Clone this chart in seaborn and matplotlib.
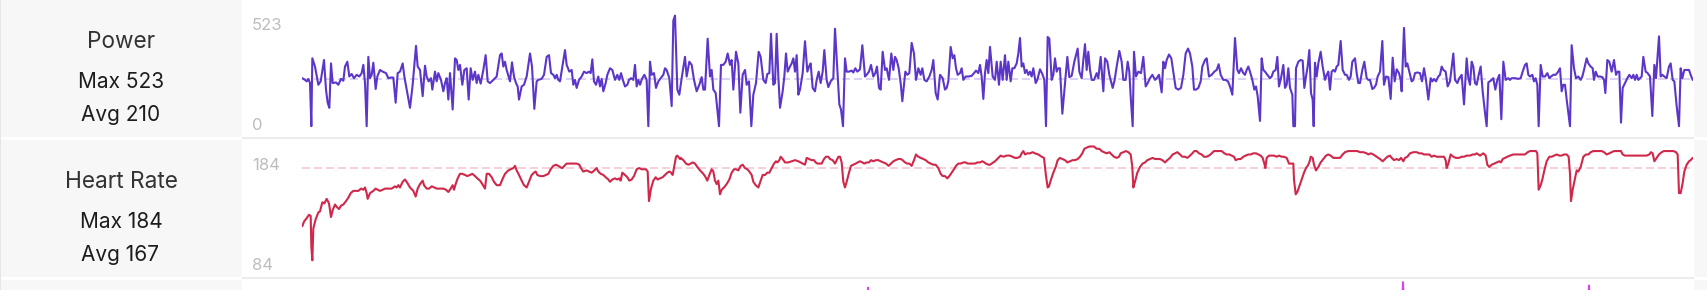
import numpy as np
import pandas as pd
import matplotlib
matplotlib.use("Agg")
import matplotlib.pyplot as plt
import seaborn as sns
from matplotlib.patches import Rectangle

# ---------------- data (elapsed seconds, values) ----------------
power_t = [
    1, 9, 14, 19, 24, 28, 31, 39, 49, 56,
    66, 72, 77, 82, 87, 92, 102, 109, 117, 124,
    129, 136, 142, 149, 156, 164, 172, 179, 184, 189,
    194, 199, 204, 209, 214, 221, 226, 234, 242, 252,
    259, 266, 274, 281, 287, 294, 302, 307, 314, 324,
    332, 342, 347, 354, 362, 369, 374, 380, 387, 391,
    399, 404, 409, 417, 424, 429, 434, 439, 444, 452,
    459, 464, 469, 474, 481, 487, 494, 500, 506, 512,
    519, 524, 529, 536, 544, 551, 557, 564, 574, 584,
    594, 599, 604, 609, 614, 624, 630, 636, 642, 647,
    651, 659, 666, 674, 684, 690, 697, 704, 709, 719,
    726, 734, 741, 747, 754, 759, 764, 769, 774, 782,
    789, 794, 802, 809, 814, 819, 824, 831, 839, 846,
    854, 861, 866, 871, 876, 882, 889, 894, 899, 904,
    911, 916, 924, 931, 939, 946, 952, 957, 964, 969,
    976, 981, 987, 994, 999, 1004, 1009, 1014, 1020, 1027,
    1034, 1039, 1044, 1049, 1056, 1062, 1069, 1076, 1084, 1089,
    1094, 1102, 1109, 1114, 1119, 1126,
    1132, 1139, 1149, 1154, 1162, 1169, 1176, 1184, 1192, 1199,
    1204, 1209, 1217, 1224, 1229, 1234, 1241, 1251, 1257, 1264,
    1271, 1277, 1284, 1289, 1294, 1302, 1309, 1315, 1322, 1329,
    1334, 1341, 1348, 1354, 1362, 1370, 1376, 1384, 1391, 1396,
    1402, 1407, 1414, 1419, 1424, 1429, 1434, 1442, 1447, 1452,
    1457, 1464, 1469, 1474, 1479, 1484, 1489, 1494, 1502, 1509,
    1516, 1521, 1526, 1532, 1539, 1544, 1550, 1556, 1562, 1567,
    1574, 1579, 1586, 1594, 1599, 1607, 1612, 1617, 1623, 1629,
    1634, 1641, 1649, 1654, 1660, 1666, 1674, 1681, 1689, 1694,
    1701, 1707, 1714, 1720, 1725, 1731, 1736, 1742, 1749, 1754,
    1761, 1768, 1774, 1779, 1784, 1790, 1796, 1801, 1806, 1810,
    1816, 1822, 1829, 1836, 1842, 1849, 1856, 1861, 1867, 1874,
    1882, 1889, 1894, 1901, 1907, 1914, 1922, 1929, 1934, 1939,
    1946, 1952, 1957, 1962, 1967, 1974, 1979, 1984, 1991, 1999,
    2009, 2016, 2022, 2029, 2034, 2039, 2044, 2049, 2054, 2059,
    2064,
    2072, 2079, 2084, 2091, 2096, 2102, 2109, 2114, 2119, 2126,
    2131, 2137, 2144, 2149, 2154, 2159, 2164, 2169, 2174, 2179,
    2184, 2189, 2194, 2201, 2206, 2214, 2221, 2227, 2232, 2237,
    2242, 2249, 2254, 2259, 2264, 2269, 2274, 2281, 2287, 2296,
    2302, 2309, 2317, 2327, 2332, 2339, 2344, 2349, 2354, 2359,
    2364, 2369, 2376, 2384, 2389, 2396, 2404, 2409, 2416, 2422,
    2427, 2432, 2438, 2444, 2452, 2459, 2464, 2471, 2477, 2482,
    2486, 2492, 2496, 2502, 2509, 2517, 2524, 2531, 2537, 2544,
    2551, 2559, 2564, 2571, 2579, 2584, 2589, 2594, 2601, 2608,
    2614, 2621, 2629, 2637, 2644, 2651, 2658, 2664, 2671, 2676,
    2682, 2689, 2696, 2701, 2709, 2714, 2721, 2729, 2737, 2744,
    2750, 2756, 2764, 2771, 2778, 2784, 2791, 2799, 2806, 2811,
    2817, 2824, 2829, 2834, 2839, 2844, 2851, 2857, 2862, 2867,
    2874, 2879, 2884, 2889, 2896, 2904, 2909, 2914, 2921, 2926,
    2931, 2937, 2944, 2949, 2954, 2959, 2964, 2971, 2974, 2979,
    2982, 2989, 2996, 3002, 3007, 3012, 3017, 3022,
    3027, 3032, 3035, 3039, 3044, 3049, 3056, 3062, 3069, 3074,
    3079, 3084, 3089, 3094, 3099, 3104, 3109, 3116, 3122, 3129,
    3134, 3141, 3146, 3151, 3159, 3164, 3169, 3174, 3181, 3187,
    3194, 3199, 3204, 3211, 3216, 3222, 3227, 3234, 3241, 3246,
    3252, 3259, 3266, 3272, 3278, 3284, 3291, 3296, 3299, 3306,
    3311, 3316, 3322, 3329, 3334, 3339, 3346, 3354, 3360, 3366,
    3372, 3379, 3386, 3391, 3396, 3402, 3409, 3414, 3419, 3424,
    3431, 3437, 3444, 3454, 3459, 3466, 3472, 3479, 3486, 3494,
    3499, 3504, 3509, 3514, 3519, 3524, 3529, 3536, 3542, 3549,
    3554, 3559, 3566, 3574, 3580, 3586, 3592, 3598, 3604, 3611,
    3619, 3624, 3629, 3639, 3649, 3656, 3662, 3669, 3674, 3679,
    3684, 3691, 3696, 3701, 3706, 3710, 3716, 3722, 3729, 3736,
    3742, 3747, 3754, 3761, 3767, 3774, 3779, 3784, 3789, 3794,
    3804, 3809, 3816, 3822, 3829, 3836, 3841, 3846, 3854, 3859,
    3866, 3872, 3876, 3881, 3887, 3894, 3901, 3906, 3910, 3916,
    3922, 3929, 3936, 3942, 3947, 3952, 3957, 3962, 3969, 3976,
    3982, 3989, 3994, 3999, 4004, 4009, 4014, 4019, 4024, 4031,
    4037, 4044, 4051, 4057, 4062, 4071, 4076, 4081, 4087, 4094,
    4101, 4106, 4112, 4117, 4124, 4131, 4136, 4141, 4147, 4154,
    4161, 4166, 4172,
]
power_w = [
    227, 219, 212, 223, 204, 0, 321, 282, 196, 212,
    313, 173, 111, 87, 297, 204, 207, 196, 224, 215,
    282, 305, 235, 247, 227, 243, 235, 251, 290, 204,
    0, 328, 227, 243, 300, 176, 235, 266, 258, 251,
    227, 230, 230, 111, 251, 258, 297, 235, 173, 87,
    196, 380, 282, 266, 142, 286, 235, 212, 227, 173,
    258, 212, 251, 219, 165, 204, 227, 126, 251, 79,
    321, 313, 266, 290, 196, 266, 274, 126, 274, 219,
    258, 204, 243, 201, 266, 336, 212, 204, 219, 235,
    336, 344, 282, 305, 266, 212, 302, 235, 204, 188,
    126, 188, 196, 235, 344, 282, 82, 212, 219, 224,
    243, 328, 336, 251, 243, 227, 243, 219, 212, 290,
    360, 290, 258, 266, 196, 219, 181, 219, 235, 258,
    251, 258, 251, 316, 212, 196, 235, 188, 224, 165,
    204, 243, 274, 266, 219, 243, 219, 251, 212, 188,
    196, 219, 227, 219, 290, 188, 219, 196, 224, 243,
    219, 0, 305, 243, 251, 181, 212, 227, 243, 274,
    266, 227, 95, 500, 523, 173,
    149, 227, 328, 235, 305, 290, 219, 165, 196, 232,
    173, 173, 414, 235, 266, 173, 157, 0, 290, 290,
    305, 344, 290, 313, 173, 352, 297, 64, 243, 266,
    196, 212, 0, 149, 204, 352, 328, 219, 204, 247,
    251, 437, 196, 204, 437, 235, 87, 165, 235, 344,
    258, 282, 297, 321, 258, 336, 149, 173, 251, 402,
    258, 282, 297, 181, 165, 219, 258, 204, 258, 360,
    219, 185, 212, 227, 461, 235, 103, 79, 0, 321,
    258, 258, 263, 254, 274, 258, 269, 383, 235, 243,
    258, 290, 235, 251, 282, 181, 173, 352, 266, 274,
    219, 344, 266, 328, 313, 274, 204, 118, 196, 258,
    243, 251, 394, 344, 219, 274, 243, 274, 219, 212,
    235, 266, 313, 157, 126, 243, 227, 173, 181, 212,
    375, 321, 336, 274, 243, 251, 274, 219, 235, 235,
    238, 251, 263, 251, 290, 235, 129, 251, 313, 251,
    375,
    235, 219, 305, 196, 305, 219, 336, 219, 305, 212,
    274, 274, 297, 344, 417, 282, 297, 251, 266, 243,
    258, 235, 274, 204, 219, 269, 247, 219, 0, 422,
    414, 219, 243, 321, 258, 274, 274, 59, 165, 328,
    232, 238, 305, 367, 258, 227, 313, 388, 266, 352,
    266, 219, 219, 251, 227, 328, 165, 321, 305, 243,
    212, 181, 219, 282, 356, 305, 219, 219, 305, 258,
    142, 0, 352, 235, 258, 251, 328, 188, 204, 227,
    243, 219, 227, 243, 160, 305, 274, 313, 339, 321,
    258, 181, 173, 181, 243, 344, 367, 344, 282, 173,
    173, 181, 212, 282, 313, 321, 235, 243, 258, 266,
    293, 243, 219, 219, 212, 188, 149, 417, 266, 251,
    274, 251, 243, 266, 282, 258, 219, 173, 188, 142,
    25, 321, 266, 258, 243, 227, 235, 258, 266, 328,
    188, 227, 290, 181, 196, 274, 181, 149, 0, 0,
    274, 305, 313, 310, 181, 235, 282, 360,
    157, 126, 0, 300, 235, 297, 352, 282, 219, 243,
    258, 173, 258, 266, 258, 282, 290, 403, 266, 243,
    243, 219, 235, 305, 321, 251, 204, 204, 266, 305,
    227, 219, 219, 176, 181, 196, 235, 258, 403, 196,
    235, 232, 129, 324, 212, 269, 251, 219, 165, 465,
    282, 297, 258, 212, 219, 251, 254, 251, 212, 274,
    219, 126, 227, 212, 223, 212, 235, 243, 282, 266,
    258, 188, 212, 344, 219, 204, 227, 243, 103, 321,
    227, 196, 305, 282, 204, 196, 235, 282, 165, 64,
    0, 207, 215, 227, 173, 219, 243, 33, 305, 219,
    227, 219, 227, 227, 224, 227, 258, 290, 297, 243,
    235, 243, 212, 227, 196, 0, 290, 235, 235, 251,
    227, 235, 243, 243, 254, 274, 165, 196, 196, 126,
    0, 383, 274, 227, 235, 219, 235, 266, 321, 297,
    282, 274, 219, 258, 235, 235, 232, 219, 157, 313,
    305, 258, 313, 243, 258, 258, 17, 181, 204, 227,
    243, 227, 243, 219, 243, 219, 227, 235, 328, 258,
    251, 235, 48, 290, 227, 425, 235, 243, 235, 227,
    282, 297, 219, 212, 95, 0, 274, 227, 266, 266,
    266, 243, 219,
]

hr_t = [
    1, 6, 14, 21, 26, 28, 31, 34, 41, 49,
    54, 61, 67, 74, 81, 87, 92, 99, 104, 111,
    117, 124, 132, 139, 146, 154, 161, 169, 177, 184,
    189, 194, 197, 204, 214, 221, 227, 234, 242, 249,
    259, 269, 279, 284, 289, 294, 302, 309, 316, 324,
    334, 341, 347, 354, 362, 366, 374, 381, 389, 397,
    404, 414, 424, 432, 439, 446, 452, 456, 461, 467,
    474, 481, 489, 496, 504, 511, 519, 526, 534, 541,
    549, 554, 561, 569, 576, 584, 594, 601, 609, 619,
    626, 634, 639, 644, 651, 659, 666, 674, 682, 689,
    696, 701, 706, 714, 724, 732, 739, 746, 754, 762,
    769, 774, 781, 787, 794, 802, 814, 824, 832, 837,
    844, 854, 861, 869, 877, 884, 889, 896, 904, 911,
    919, 924, 931, 939, 946, 952, 956, 961, 969, 976,
    982, 989, 996, 1004, 1011, 1019, 1024, 1032, 1037, 1041,
    1047, 1054, 1061, 1067, 1074, 1082, 1089, 1096, 1102, 1107,
    1112, 1117, 1122, 1126, 1134,
    1136, 1144, 1152, 1159, 1166, 1172, 1179, 1186, 1194, 1201,
    1209, 1216, 1222, 1229, 1234, 1239, 1244, 1249, 1254, 1259,
    1266, 1274, 1282, 1289, 1296, 1302, 1309, 1316, 1322, 1329,
    1336, 1342, 1349, 1354, 1361, 1369, 1376, 1382, 1389, 1396,
    1402, 1409, 1416, 1422, 1426, 1432, 1436, 1442, 1449, 1459,
    1469, 1479, 1489, 1496, 1502, 1509, 1514, 1521, 1529, 1536,
    1541, 1547, 1552, 1559, 1566, 1572, 1579, 1584, 1592, 1599,
    1604, 1609, 1614, 1619, 1624, 1629, 1634, 1641, 1647, 1654,
    1661, 1667, 1674, 1681, 1687, 1694, 1701, 1707, 1714, 1722,
    1729, 1736, 1744, 1752, 1760, 1767, 1774, 1781, 1789, 1796,
    1802, 1809, 1816, 1822, 1829, 1836, 1842, 1849, 1856, 1864,
    1871, 1879, 1886, 1894, 1901, 1909, 1916, 1922, 1929, 1936,
    1942, 1949, 1956, 1962, 1969, 1976, 1984, 1991, 1997, 2004,
    2012, 2019, 2026, 2034, 2041, 2047, 2052, 2059, 2064,
    2069, 2079, 2089, 2096, 2104, 2114, 2124, 2131, 2139, 2146,
    2154, 2159, 2164, 2169, 2176, 2184, 2192, 2199, 2209, 2219,
    2226, 2232, 2237, 2241, 2247, 2254, 2261, 2267, 2274, 2281,
    2289, 2296, 2304, 2312, 2319, 2327, 2334, 2341, 2347, 2354,
    2362, 2369, 2376, 2384, 2392, 2399, 2406, 2414, 2422, 2429,
    2436, 2444, 2451, 2456, 2464, 2472, 2479, 2486, 2491, 2494,
    2499, 2506, 2514, 2522, 2529, 2536, 2544, 2552, 2559, 2566,
    2574, 2581, 2589, 2596, 2604, 2612, 2619, 2626, 2634, 2641,
    2649, 2656, 2664, 2671, 2677, 2684, 2691, 2699, 2706, 2714,
    2721, 2729, 2736, 2744, 2752, 2759, 2767, 2774, 2782, 2789,
    2796, 2801, 2809, 2816, 2824, 2831, 2839, 2846, 2854, 2862,
    2869, 2876, 2882, 2887, 2890, 2894, 2901, 2909, 2916, 2924,
    2931, 2939, 2946, 2954, 2961, 2969, 2974, 2976, 2981, 2986,
    2992, 2999, 3006, 3012, 3019, 3024,
    3026, 3032, 3036, 3042, 3049, 3056, 3064, 3072, 3079, 3086,
    3094, 3104, 3114, 3122, 3129, 3139, 3149, 3159, 3166, 3174,
    3184, 3194, 3199, 3206, 3214, 3224, 3234, 3242, 3249, 3256,
    3264, 3269, 3276, 3284, 3291, 3297, 3304, 3309, 3316, 3324,
    3334, 3344, 3352, 3359, 3366, 3374, 3382, 3389, 3396, 3404,
    3412, 3419, 3426, 3431, 3434, 3439, 3446, 3454, 3462, 3471,
    3479, 3486, 3494, 3504, 3512, 3519, 3524, 3529, 3534, 3539,
    3544, 3551, 3556, 3562, 3569, 3577, 3584, 3592, 3597, 3602,
    3609, 3616, 3624, 3634, 3644, 3654, 3661, 3669, 3677, 3684,
    3691, 3697, 3702, 3706, 3710, 3716, 3721, 3727, 3734, 3742,
    3749, 3756, 3764, 3772, 3779, 3786, 3794, 3800, 3804, 3807,
    3812, 3819, 3824, 3829, 3836, 3844, 3852, 3859, 3866, 3874,
    3884, 3892, 3899, 3906, 3914, 3922, 3929, 3936, 3944, 3952,
    3957, 3962, 3969, 3979, 3994, 4014, 4034, 4042, 4047, 4052,
    4057, 4064, 4071, 4079, 4086, 4094, 4104, 4114, 4122, 4127,
    4131, 4136, 4142, 4147, 4154, 4161, 4166, 4172,
]
hr_bpm = [
    114, 118, 121, 124, 123, 96, 84, 112, 120, 126,
    127, 135, 134, 138, 134, 122, 128, 133, 131, 129,
    132, 133, 136, 139, 143, 145, 145, 145, 147, 146,
    148, 143, 138, 143, 145, 147, 146, 145, 146, 147,
    147, 147, 149, 148, 150, 148, 153, 155, 152, 148,
    145, 140, 147, 151, 154, 150, 147, 147, 149, 148,
    147, 147, 147, 146, 144, 147, 150, 146, 151, 156,
    160, 160, 159, 158, 159, 160, 158, 156, 154, 151,
    147, 160, 160, 157, 153, 150, 150, 155, 160, 163,
    164, 165, 167, 163, 159, 154, 150, 148, 154, 159,
    161, 162, 159, 158, 158, 159, 160, 164, 167, 168,
    167, 166, 165, 167, 169, 169, 169, 169, 168, 165,
    162, 163, 162, 161, 163, 165, 162, 160, 159, 157,
    155, 153, 155, 156, 155, 156, 154, 161, 159, 157,
    154, 155, 158, 164, 165, 164, 164, 164, 162, 136,
    147, 154, 157, 155, 156, 157, 159, 161, 162, 161,
    159, 167, 175, 176, 173,
    174, 172, 169, 168, 169, 170, 169, 166, 163, 161,
    158, 154, 159, 164, 162, 154, 151, 154, 142, 146,
    148, 151, 155, 161, 164, 164, 163, 167, 168, 165,
    164, 162, 159, 153, 150, 148, 154, 159, 159, 161,
    161, 165, 169, 171, 170, 172, 175, 173, 170, 170,
    171, 172, 171, 170, 169, 168, 174, 173, 172, 172,
    170, 169, 169, 169, 173, 175, 175, 173, 172, 169,
    172, 175, 175, 170, 153, 148, 153, 161, 167, 168,
    169, 170, 171, 170, 169, 170, 170, 172, 171, 172,
    172, 171, 170, 169, 167, 169, 171, 172, 173, 173,
    172, 170, 169, 169, 167, 172, 177, 175, 174, 173,
    172, 170, 169, 168, 168, 165, 160, 158, 158, 156,
    158, 161, 164, 167, 169, 169, 170, 170, 169, 169,
    169, 169, 170, 170, 171, 170, 169, 168, 168,
    169, 171, 174, 176, 175, 176, 176, 175, 174, 174,
    175, 178, 180, 177, 178, 178, 179, 178, 177, 175,
    174, 158, 148, 149, 155, 161, 166, 172, 174, 173,
    172, 170, 171, 172, 172, 173, 175, 178, 182, 183,
    184, 184, 184, 182, 182, 180, 179, 178, 179, 177,
    175, 174, 175, 178, 179, 180, 179, 177, 166, 148,
    153, 161, 166, 169, 170, 172, 173, 174, 173, 173,
    173, 172, 170, 172, 174, 177, 178, 179, 177, 175,
    175, 174, 176, 178, 180, 180, 178, 177, 175, 175,
    176, 178, 180, 180, 180, 180, 178, 177, 177, 176,
    175, 172, 173, 173, 175, 176, 177, 177, 178, 178,
    177, 176, 174, 169, 165, 174, 176, 176, 176, 175,
    176, 175, 175, 174, 169, 169, 169, 155, 142, 144,
    149, 155, 161, 165, 168, 172,
    175, 174, 168, 163, 166, 170, 173, 176, 177, 176,
    174, 174, 174, 177, 179, 180, 180, 180, 180, 179,
    179, 178, 177, 178, 177, 175, 173, 171, 173, 175,
    176, 174, 172, 173, 172, 174, 171, 174, 175, 178,
    179, 179, 178, 178, 177, 177, 177, 175, 176, 175,
    175, 175, 175, 172, 165, 169, 177, 175, 174, 174,
    175, 175, 176, 176, 177, 177, 178, 177, 176, 177,
    178, 176, 168, 166, 168, 169, 170, 171, 170, 173,
    174, 175, 176, 177, 177, 177, 177, 177, 179, 180,
    180, 180, 180, 178, 146, 150, 155, 163, 171, 175,
    175, 176, 177, 176, 176, 177, 177, 175, 160, 136,
    146, 156, 163, 162, 166, 175, 177, 177, 179, 180,
    180, 180, 180, 179, 177, 178, 179, 180, 180, 180,
    180, 177, 176, 176, 176, 176, 176, 177, 179, 178,
    171, 174, 177, 179, 180, 180, 180, 180, 179, 177,
    143, 143, 152, 162, 168, 171, 172, 174,
]

# third (cut-off) panel: only its spikes reach the visible strip
p3_t = [0, 1692, 1698, 1704, 3297, 3303, 3309, 3855, 3861, 3867, 4089, 4095, 4101, 4173]
p3_v = [60, 60, 94, 60, 60, 99, 60, 60, 96, 60, 60, 91, 60, 60]

titles = ["Power", "Heart Rate"]
max_labels = ["Max 523", "Max 184"]
avg_labels = ["Avg 210", "Avg 167"]
axis_top = ["523", "184"]
axis_bot = ["0", "84"]
power_ref = 222   # dashed reference line
hr_ref = 165

# ---------------- styling / layout ----------------
W, H = 1708, 290
X0, X1 = 302, 1693
T_END = 4173
PURPLE = "#5B36C8"
CRIMSON = "#D0284A"
MAGENTA = "#E23CF2"

sns.set_theme(style="white")
plt.rcParams["font.family"] = ["Inter", "DejaVu Sans"]

fig = plt.figure(figsize=(W / 100, H / 100), dpi=100)
fig.patch.set_facecolor("white")


def rect(x0, y0, x1, y1, color, z=0):
    fig.add_artist(Rectangle((x0 / W, 1 - y1 / H), (x1 - x0) / W, (y1 - y0) / H,
                             transform=fig.transFigure, facecolor=color,
                             edgecolor="none", zorder=z))


# left label column and right strip
for (a, b) in [(0, 137.3), (140, 276.7), (280, 290)]:
    rect(0, a, 242, b, "#f7f7f7")
    rect(1694, a, W, b, "#f7f7f7")
rect(0, 0, 1.5, H, "#e6e6e6")
# row separators in chart area
rect(242, 136.6, 1694, 138.6, "#ececec")
rect(242, 276.5, 1694, 278.5, "#ececec")


def make_axes(top, bottom, v_lo, y_lo, v_hi, y_hi):
    ax = fig.add_axes([X0 / W, 1 - bottom / H, (X1 - X0) / W, (bottom - top) / H])
    scale = (y_lo - y_hi) / (v_hi - v_lo)
    ax.set_ylim(v_lo - (bottom - y_lo) / scale, v_hi + (y_hi - top) / scale)
    ax.set_xlim(0, T_END)
    ax.patch.set_alpha(0)
    return ax


def dashed(ax, val, color):
    lw = 1.1
    ax.axhline(val, color=color, lw=lw, ls=(0, (8 * 0.72 / lw, 4 * 0.72 / lw)), zorder=1)


# power
ax_p = make_axes(0, 137, 0, 126.2, 523, 15.6)
dashed(ax_p, power_ref, "#d2c6f1")
sns.lineplot(x=power_t, y=power_w, ax=ax_p, color=PURPLE, linewidth=1.5,
             estimator=None, errorbar=None, zorder=3)
ax_p.axis("off")

# heart rate
ax_h = make_axes(139, 277, 84, 260.3, 184, 146.5)
dashed(ax_h, hr_ref, "#f2c3ce")
sns.lineplot(x=hr_t, y=hr_bpm, ax=ax_h, color=CRIMSON, linewidth=1.5,
             estimator=None, errorbar=None, zorder=3)
ax_h.axis("off")

# third panel (mostly outside the canvas)
ax_3 = make_axes(279, 420, 0, 393, 100, 281)
sns.lineplot(x=p3_t, y=p3_v, ax=ax_3, color=MAGENTA, linewidth=1.4,
             estimator=None, errorbar=None)
ax_3.axis("off")

# texts
row_off = [0, 140]
for i in range(2):
    o = row_off[i]
    fig.text(121 / W, 1 - (48.3 + o) / H, titles[i], ha="center", va="baseline",
             fontsize=16.3, color="#333333")
    fig.text(121.5 / W, 1 - (88.3 + o) / H, max_labels[i], ha="center", va="baseline",
             fontsize=15, color="#1c1c1c")
    fig.text(120.5 / W, 1 - (120.7 + o) / H, avg_labels[i], ha="center", va="baseline",
             fontsize=15, color="#1c1c1c")
    fig.text(252 / W, 1 - (30 + o) / H, axis_top[i], ha="left", va="baseline",
             fontsize=12, color="#bdbdbd")
    fig.text(252 / W, 1 - (130 + o) / H, axis_bot[i], ha="left", va="baseline",
             fontsize=12, color="#bdbdbd")

fig.savefig("out.png", dpi=100, facecolor="white")
